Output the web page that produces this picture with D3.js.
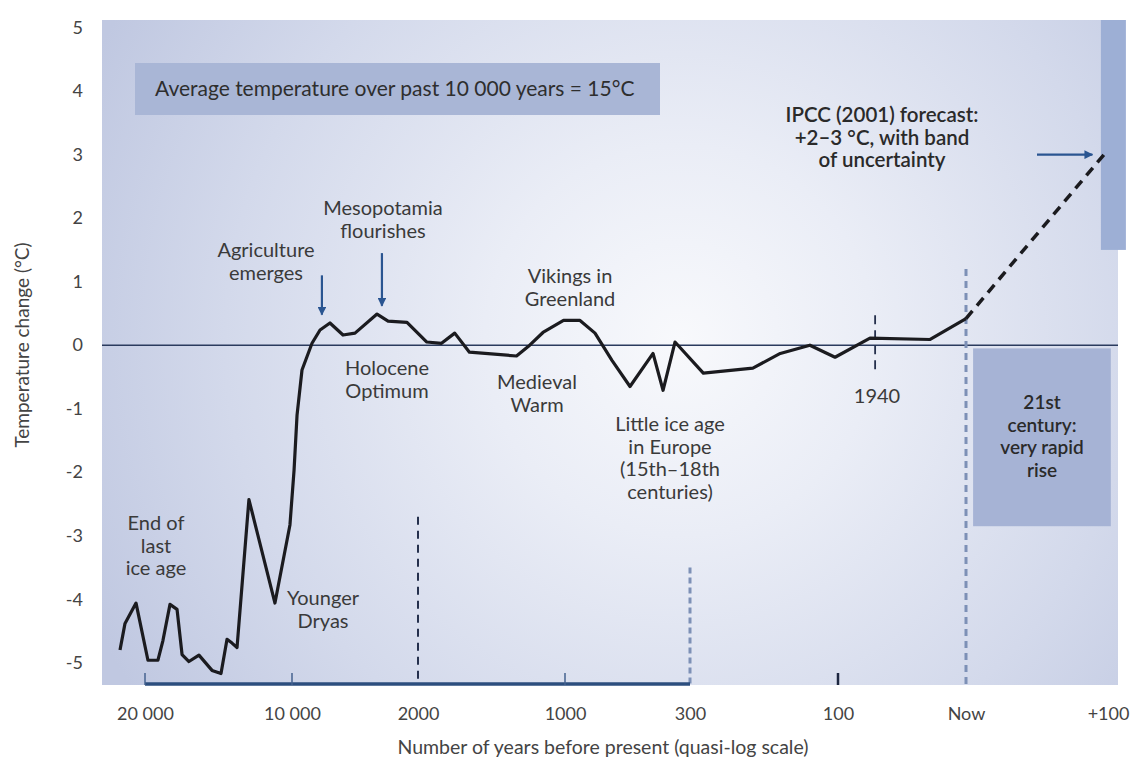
<!DOCTYPE html>
<html>
<head>
<meta charset="utf-8">
<script src="https://cdn.jsdelivr.net/npm/d3@7"></script>
<style>
  body { margin: 0; background: #fff; }
  svg text { font-family: Lato, "Open Sans", sans-serif; fill: #333; }
</style>
</head>
<body>
<div id="chart"></div>
<script>
// x axis: quasi-log, years before present (negative = future)
const tickYears = [20000, 10000, 2000, 1000, 300, 100, 0, -100];
const tickLabels = ['20 000', '10 000', '2000', '1000', '300', '100', 'Now', '+100'];
const yTicks = [5, 4, 3, 2, 1, 0, -1, -2, -3, -4, -5];

// temperature record
const years = [21700, 21360, 20610, 19800, 19120, 18780, 18300, 17820, 17480, 17010,
  16330, 15440, 14830, 14420, 14080, 13740, 12930, 11160, 10140, 9870,
  9680, 9365, 8730, 8220, 7590, 6760, 6000, 4600, 3900, 2700,
  1940, 1840, 1750, 1650, 1330, 1240, 1150, 1010, 916, 832,
  737, 636, 507, 451, 384, 282, 215, 178, 138, 104,
  75, 28, 0];
const temps = [-4.80, -4.38, -4.06, -4.96, -4.96, -4.65, -4.08, -4.16, -4.87, -4.98,
  -4.88, -5.12, -5.17, -4.63, -4.69, -4.76, -2.43, -4.06, -2.83, -1.97,
  -1.10, -0.39, 0.03, 0.24, 0.35, 0.16, 0.19, 0.49, 0.38, 0.36,
  0.05, 0.03, 0.19, -0.11, -0.17, 0.00, 0.20, 0.39, 0.39, 0.19,
  -0.24, -0.65, -0.13, -0.71, 0.05, -0.44, -0.36, -0.13, 0.00, -0.19,
  0.11, 0.09, 0.42];

// IPCC forecast
const forecastYears = [0, -99];
const forecastTemps = [0.42, 3.05];
const bandTemps = [1.5, 5.12];

const w = 1136, h = 763;
const mLeft = 102, mRight = 1118, mTop = 20, mBottom = 685;

const svg = d3.select('#chart').append('svg')
  .attr('width', w)
  .attr('height', h);

const x = d3.scaleLinear()
  .domain(tickYears)
  .range([145, 292, 418, 565, 690, 838, 966, 1108]);

const y = d3.scaleLinear()
  .domain([-5.35, 5.12])
  .range([mBottom, mTop]);

// background
const defs = svg.append('defs');
const grad = defs.append('radialGradient')
  .attr('id', 'bg')
  .attr('gradientUnits', 'userSpaceOnUse')
  .attr('cx', 680).attr('cy', 340).attr('r', 650);
grad.append('stop').attr('offset', '0').attr('stop-color', '#f8f9fc');
grad.append('stop').attr('offset', '0.3').attr('stop-color', '#eaedf6');
grad.append('stop').attr('offset', '0.7').attr('stop-color', '#d3d9eb');
grad.append('stop').attr('offset', '1').attr('stop-color', '#c0c8e1');

defs.append('marker')
  .attr('id', 'head')
  .attr('viewBox', '0 0 10 10')
  .attr('refX', 9).attr('refY', 5)
  .attr('markerWidth', 4).attr('markerHeight', 4)
  .attr('markerUnits', 'strokeWidth')
  .attr('orient', 'auto')
  .append('path')
  .attr('d', 'M0,0L10,5L0,10Z')
  .attr('fill', '#2a5591');

svg.append('rect')
  .attr('x', mLeft).attr('y', mTop)
  .attr('width', mRight - mLeft).attr('height', mBottom - mTop)
  .attr('fill', 'url(#bg)');

// boxes
svg.append('rect')
  .attr('x', 135).attr('y', 63).attr('width', 525).attr('height', 52)
  .attr('fill', '#a9b6d6');
svg.append('text')
  .attr('x', 155).attr('y', 96)
  .style('font-size', '21px')
  .style('fill', '#2e2e2e')
  .text('Average temperature over past 10 000 years = 15°C');

svg.append('rect')
  .attr('x', x(-5)).attr('y', y(-0.05))
  .attr('width', x(-102) - x(-5)).attr('height', y(-2.85) - y(-0.05))
  .attr('fill', '#a6b3d5');

svg.append('rect')
  .attr('x', x(-95)).attr('y', y(bandTemps[1]))
  .attr('width', 25).attr('height', y(bandTemps[0]) - y(bandTemps[1]))
  .attr('fill', '#9dafd5');

// zero line
svg.append('line')
  .attr('x1', mLeft).attr('x2', mRight)
  .attr('y1', y(0)).attr('y2', y(0))
  .attr('stroke', '#2b3b5e').attr('stroke-width', 1.5);

// dashed markers
const dashed = [
  {yr: 2000, from: -2.7, color: '#25304d', width: 2, dash: '8,6'},
  {yr: 300, from: -3.5, color: '#7d90b6', width: 3, dash: '6,4'},
  {yr: 0, from: 1.2, color: '#7d90b6', width: 3, dash: '7,5'}
];
svg.selectAll('.vdash')
  .data(dashed)
  .enter()
  .append('line')
  .attr('class', 'vdash')
  .attr('x1', d => x(d.yr)).attr('x2', d => x(d.yr))
  .attr('y1', d => y(d.from)).attr('y2', mBottom)
  .attr('stroke', d => d.color)
  .attr('stroke-width', d => d.width)
  .attr('stroke-dasharray', d => d.dash);

svg.append('line')
  .attr('x1', x(71)).attr('x2', x(71))
  .attr('y1', y(0.47)).attr('y2', y(-0.42))
  .attr('stroke', '#25304d').attr('stroke-width', 1.8)
  .attr('stroke-dasharray', '9,6');

// bottom axis bar
svg.append('line')
  .attr('x1', x(20000)).attr('x2', x(300))
  .attr('y1', mBottom - 1).attr('y2', mBottom - 1)
  .attr('stroke', '#2c4e7e').attr('stroke-width', 3.5);

svg.selectAll('.tk')
  .data([20000, 10000, 1000, 100])
  .enter()
  .append('line')
  .attr('class', 'tk')
  .attr('x1', d => x(d)).attr('x2', d => x(d))
  .attr('y1', mBottom - 12).attr('y2', mBottom)
  .attr('stroke', d => d === 100 ? '#1d2640' : '#44628f')
  .attr('stroke-width', d => d === 100 ? 2.5 : 1.5);

// axes (labels only)
const xAxis = svg.append('g')
  .attr('transform', `translate(0, ${mBottom})`)
  .call(d3.axisBottom(x).tickValues(tickYears)
    .tickFormat((d, i) => tickLabels[i]).tickSize(0).tickPadding(22));
xAxis.select('.domain').remove();
xAxis.selectAll('text').style('font-size', '18px').style('fill', '#444')
  .style('font-family', 'Lato, sans-serif');

const yAxis = svg.append('g')
  .attr('transform', `translate(83, 0)`)
  .call(d3.axisLeft(y).tickValues(yTicks).tickSize(0).tickPadding(0)
    .tickFormat(d => d));
yAxis.select('.domain').remove();
yAxis.selectAll('text').style('font-size', '18px').style('fill', '#444')
  .style('font-family', 'Lato, sans-serif');

svg.append('text')
  .attr('x', 603).attr('y', 754)
  .attr('text-anchor', 'middle')
  .style('font-size', '19.5px').style('fill', '#444')
  .text('Number of years before present (quasi-log scale)');

svg.append('text')
  .attr('transform', 'rotate(-90)')
  .attr('x', -345).attr('y', 29)
  .attr('text-anchor', 'middle')
  .style('font-size', '19px').style('fill', '#444')
  .text('Temperature change (°C)');

// curve
const line = d3.line()
  .x(d => x(d[0]))
  .y(d => y(d[1]));

svg.append('path')
  .datum(years.map((yr, i) => [yr, temps[i]]))
  .attr('d', line)
  .attr('fill', 'none')
  .attr('stroke', '#1b1b1f')
  .attr('stroke-width', 3.2)
  .attr('stroke-linejoin', 'round');

svg.append('path')
  .datum(forecastYears.map((yr, i) => [yr, forecastTemps[i]]))
  .attr('d', line)
  .attr('fill', 'none')
  .attr('stroke', '#1b1b1f')
  .attr('stroke-width', 3.5)
  .attr('stroke-dasharray', '10,7');

// arrows
const arrows = [
  {x1: 8100, y1: 1.1, x2: 8100, y2: 0.48},
  {x1: 4290, y1: 1.45, x2: 4290, y2: 0.62},
  {x1: -50, y1: 3.0, x2: -89, y2: 3.0}
];
svg.selectAll('.arrow')
  .data(arrows)
  .enter()
  .append('line')
  .attr('class', 'arrow')
  .attr('x1', d => x(d.x1)).attr('y1', d => y(d.y1))
  .attr('x2', d => x(d.x2)).attr('y2', d => y(d.y2))
  .attr('stroke', '#2a5591')
  .attr('stroke-width', 2.2)
  .attr('marker-end', 'url(#head)');

// annotations
const notes = [
  {x: 383, y: 215, lines: ['Mesopotamia', 'flourishes']},
  {x: 266, y: 257, lines: ['Agriculture', 'emerges']},
  {x: 387, y: 375, lines: ['Holocene', 'Optimum']},
  {x: 570, y: 283, lines: ['Vikings in', 'Greenland']},
  {x: 537, y: 389, lines: ['Medieval', 'Warm']},
  {x: 670, y: 431, lines: ['Little ice age', 'in Europe', '(15th–18th', 'centuries)']},
  {x: 156, y: 530, lines: ['End of', 'last', 'ice age']},
  {x: 323, y: 605, lines: ['Younger', 'Dryas']},
  {x: 877, y: 403, lines: ['1940']},
  {x: 1042, y: 409, size: 19, lines: ['21st', 'century:', 'very rapid', 'rise'], bold: true},
  {x: 882, y: 122, size: 20.5, lines: ['IPCC (2001) forecast:', '+2–3 °C, with band', 'of uncertainty'], bold: true}
];

notes.forEach(n => {
  const t = svg.append('text')
    .attr('x', n.x).attr('y', n.y)
    .attr('text-anchor', 'middle')
    .style('font-size', (n.size || 20) + 'px')
    .style('font-weight', n.bold ? 600 : 400)
    .style('fill', n.bold ? '#2a2a2a' : '#3a3a3a');
  n.lines.forEach((l, i) => {
    t.append('tspan')
      .attr('x', n.x)
      .attr('dy', i === 0 ? 0 : 22.5)
      .text(l);
  });
});
</script>
</body>
</html>
